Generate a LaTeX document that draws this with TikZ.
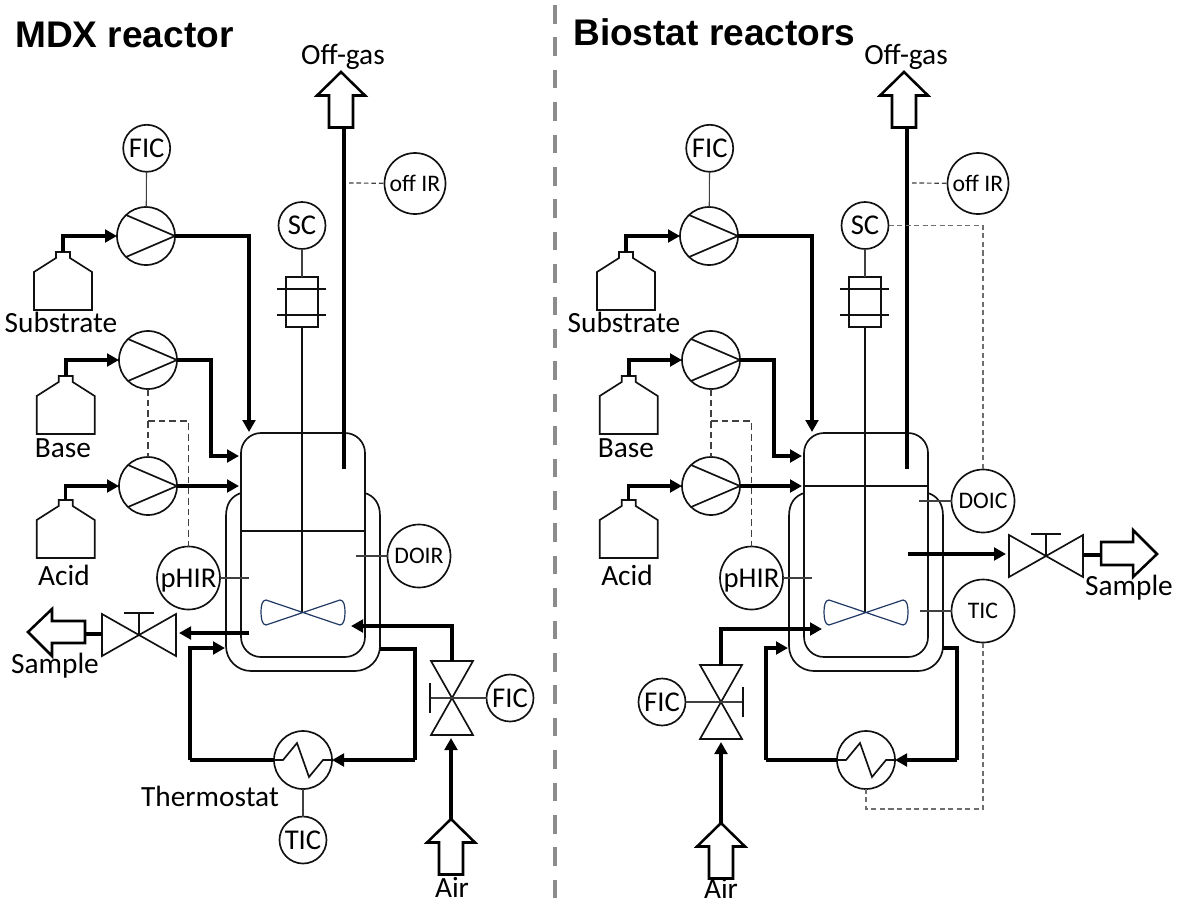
\documentclass[tikz,border=0pt]{standalone}
\usepackage{fontspec}
\setmainfont{Carlito}
\newfontfamily\titlefont{Liberation Sans}
\usetikzlibrary{arrows.meta}
\definecolor{inkline}{HTML}{111111}
\definecolor{hairline}{HTML}{404040}
\definecolor{divgray}{HTML}{8C8C8C}
\definecolor{dashgray}{HTML}{6E6E6E}
\definecolor{stirblue}{HTML}{1F3864}
\tikzset{
  x=0.75pt,y=-0.75pt,
  >={Triangle[length=9pt,width=9.5pt]},
  shape line/.style={draw=inkline,line width=1.25pt,line join=miter},
  hair/.style={draw=hairline,line width=0.8pt},
  hollowarrow/.style={draw=black,line width=1.9pt,line join=miter,fill=white},
  thk/.style={draw=black,line width=3pt},
  med/.style={draw=black,line width=2.3pt},
  blackdash/.style={draw=hairline,line width=0.95pt,dash pattern=on 5pt off 3pt},
  finedash/.style={draw=hairline,line width=0.9pt,dash pattern=on 3.4pt off 2.2pt},
  graydash/.style={draw=dashgray,line width=0.95pt,dash pattern=on 3.8pt off 2.6pt},
  inst/.style={circle,shape line,inner sep=0pt,outer sep=0pt,minimum size=#1*0.75pt,
     font=\fontsize{21.5}{25}\selectfont,text height=13.8pt,text depth=0pt},
  instsmall/.style={inst=#1,font=\fontsize{17.8}{21}\selectfont,text height=11.4pt},
  pumpnode/.style={circle,shape line,inner sep=0pt,outer sep=0pt,minimum size=43.5pt},
  lbl/.style={anchor=base,inner sep=0pt,font=\fontsize{22}{25}\selectfont},
  heading/.style={anchor=base west,inner sep=0pt,font=\titlefont\bfseries\fontsize{27.8}{32}\selectfont},
}
\newcommand{\ctext}[1]{\makebox[0pt]{#1}}
\newcommand{\bottleshape}[3]{%
  \coordinate (#1) at (#2,#3);
  \draw[shape line] (#1) ++(-7,6) -- ++(0,-6) -- ++(14,0) -- ++(0,6) -- ++(22,14)
    -- ++(0,38) -- ++(-58,0) -- ++(0,-38) -- cycle;}
\newcommand{\pumpshape}[3]{%
  \node[pumpnode] (#1) at (#2,#3) {};
  \draw[shape line] (#1.east) -- ++(-49,-21) (#1.east) -- ++(-49,21);}
\newcommand{\upblock}[3]{%
  \draw[hollowarrow] (#2,#3) -- ++(-24,23.5) -- ++(12,0) -- ++(0,32) -- ++(24,0) -- ++(0,-32) -- ++(12,0) -- cycle;
  \coordinate (#1) at (#2,#3);}
\newcommand{\hxshape}[3]{%
  \node[pumpnode] (#1) at (#2,#3) {};
  \draw[shape line] (#1.west) -- ++(9,0) -- ++(14,-17) -- ++(12,34) -- ++(14,-17) -- (#1.east);}
\newcommand{\valveflat}[3]{%
  \coordinate (#1) at (#2,#3);
  \draw[shape line] (#1) -- ++(-37,-21) -- ++(0,42) -- cycle;
  \draw[shape line] (#1) -- ++(37,-21) -- ++(0,42) -- cycle;
  \draw[shape line] (#1) -- ++(0,-22) ++(-15,0) -- ++(30,0);}
% name, x, y, sign of handle side
\newcommand{\valvestand}[4]{%
  \coordinate (#1) at (#2,#3);
  \draw[shape line] (#1) -- ++(-21,-37) -- ++(42,0) -- cycle;
  \draw[shape line] (#1) -- ++(-21,37) -- ++(42,0) -- cycle;
  \draw[hair] (#1) -- ++(#4*22,0);
  \draw[shape line] (#1) ++(#4*22,-15) -- ++(0,30);}
% Everything both reactors share; #1 name prefix, #2 liquid level y
\newcommand{\sharedplant}[2]{%
  % feed bottles and pumps
  \bottleshape{#1bs}{63}{252}
  \bottleshape{#1bb}{65.7}{376}
  \bottleshape{#1ba}{65.7}{500}
  \pumpshape{#1ps}{146}{236}
  \pumpshape{#1pb}{148}{360}
  \pumpshape{#1pa}{148}{486}
  \node[lbl] (#1ls) at (61,332) {Substrate};
  \node[lbl] (#1lb) at (63,457) {Base};
  \node[lbl] (#1la) at (64,585) {Acid};
  \node[inst=47] (#1fic) at (146.7,148.3) {\ctext{FIC}};
  \draw[hair] (#1fic) -- (#1ps);
  % vessel
  \draw[shape line,rounded corners=15pt] (241,433) rectangle (365,657);
  \draw[shape line,rounded corners=18.75pt] (226,515) -- (226,671) -- (380,671) -- (380,515);
  \draw[shape line] (241,493) .. controls (232,496) and (226,503) .. (226,516);
  \draw[shape line] (365,493) .. controls (374,496) and (380,503) .. (380,516);
  \coordinate (#1lvla) at (241,#2);
  \coordinate (#1lvlb) at (365,#2);
  \draw[shape line] (#1lvla) -- (#1lvlb);
  % agitator
  \coordinate (#1hub) at (302,612);
  \node[inst=47] (#1sc) at (302,225.5) {\ctext{SC}};
  \node[draw=inkline,line width=1pt,inner sep=0pt,outer sep=0pt,minimum width=24pt,minimum height=37.5pt] (#1cpl) at (302,302) {};
  \draw[shape line] (277,289) -- (326,289) (277,315) -- (326,315);
  \draw[hair] (#1sc) -- (#1cpl);
  \draw[shape line] (#1cpl) -- (#1hub);
  \draw[draw=stirblue,line width=0.9pt,line join=round] (266,600) -- (340,625)
    .. controls (344,625) and (345,618) .. (345,612) .. controls (345,606) and (344,600) .. (340,600)
    -- (266,625) .. controls (262,625) and (261,618) .. (261,612) .. controls (261,606) and (262,600) .. (266,600) -- cycle;
  % pHIR and its signal lines
  \node[inst=63] (#1phir) at (188.5,578) {\ctext{pHIR}};
  \coordinate (#1phe) at (249,578);
  \draw[hair] (#1phir) -- (#1phe);
  \coordinate (#1tee) at (148,421);
  \draw[blackdash] (#1pb) -- (#1pa);
  \draw[blackdash] (#1tee) -| (#1phir);
  % feeds
  \coordinate (#1ins) at (249,432);
  \coordinate (#1jb) at (211,456);
  \coordinate (#1inb) at (239,456);
  \coordinate (#1ina) at (239,486);
  \draw[med,->] (#1bs) |- (#1ps.west);
  \draw[thk,->] (#1bb) |- (#1pb.west);
  \draw[med,->] (#1ba) |- (#1pa.west);
  \draw[thk,->] (#1ps.east) -| (#1ins);
  \draw[thk,->] (#1pb.east) -| (#1jb) -- (#1inb);
  \draw[med,->] (#1pa.east) -- (#1ina);
  % off-gas
  \upblock{#1og}{341}{72}
  \coordinate (#1ogb) at (344,127);
  \coordinate (#1oge) at (344,469);
  \draw[thk] (#1ogb) -- (#1oge);
  \node[lbl] (#1lo) at (343,64) {Off-gas};
  \node[instsmall=61] (#1off) at (415,183.5) {\ctext{off IR}};
  \coordinate (#1ofl) at (349,183);
  \draw[finedash] (#1ofl) -- (#1off);
  % heat exchanger
  \hxshape{#1hx}{303}{760}
}
\begin{document}
\begin{tikzpicture}
\useasboundingbox (0,0) rectangle (1180,907);
% divider
\coordinate (divtop) at (555,5);
\coordinate (divbot) at (555,899);
\draw[draw=divgray,line width=3.7pt,dash pattern=on 13.9pt off 10.4pt] (divtop) -- (divbot);
% titles
\node[heading] (t1) at (15,47) {MDX reactor};
\node[heading] (t2) at (573,45) {Biostat reactors};

% ---------- left plant ----------
\sharedplant{l}{531}
\node[instsmall=63] (ldo) at (419,556) {\ctext{DOIR}};
\coordinate (ldoe) at (356,556);
\draw[hair] (ldo) -- (ldoe);
% sample
\valveflat{lsv}{139}{635}
\draw[hollowarrow] (28,632) -- (52,609) -- (52,621) -- (85,621) -- (85,643) -- (52,643) -- (52,656) -- cycle;
\coordinate (lsb) at (85,634);
\coordinate (lsi) at (102,634);
\draw[thk] (lsb) -- (lsi);
\coordinate (lso) at (249,633);
\coordinate (lsx) at (179,633);
\draw[med,->] (lso) -- (lsx);
\node[lbl] (lsl) at (55,673) {Sample};
% air
\valvestand{lav}{452}{698}{-1}
\node[inst=47] (lafic) at (510,698) {\ctext{FIC}};
\draw[hair] (lafic) -- (lav);
\upblock{lair}{451}{819}
\coordinate (lain) at (451,738);
\draw[med,->] (lair) -- (lain);
\coordinate (laout) at (452,661);
\coordinate (laend) at (351,626);
\draw[thk,->] (laout) |- (laend);
\node[lbl] (lal) at (452,897) {Air};
% jacket loop
\coordinate (ljo) at (380,649);
\coordinate (ljc) at (415,760);
\coordinate (ljr) at (190,760);
\coordinate (lji) at (225,648);
\draw[thk] (ljo) -| (ljc);
\draw[thk,->] (ljc) -- (lhx.east);
\draw[thk] (lhx.west) -- (ljr);
\draw[thk,->] (ljr) |- (lji);
\node[lbl] (lth) at (210,806) {Thermostat};
\node[inst=47] (ltic) at (303,840) {\ctext{TIC}};
\draw[hair] (lhx) -- (ltic);

% ---------- right plant ----------
\begin{scope}[xshift=422.25pt]
\sharedplant{r}{486}
\end{scope}
\node[instsmall=63] (rdo) at (983,501) {\ctext{DOIC}};
\coordinate (rdoe) at (919,501);
\draw[hair] (rdo) -- (rdoe);
\draw[graydash] (rsc) -| (rdo);
\node[instsmall=63] (rtic) at (983,611) {\ctext{TIC}};
\coordinate (rtice) at (920,611);
\draw[hair] (rtic) -- (rtice);
\coordinate (rdk) at (983,809);
\draw[graydash] (rtic) -- (rdk) -| (rhx);
% sample
\valveflat{rsv}{1046}{556}
\draw[hollowarrow] (1157,554) -- (1133,530) -- (1133,542) -- (1101,542) -- (1101,565) -- (1133,565) -- (1133,577) -- cycle;
\coordinate (rsb) at (1101,555);
\coordinate (rsi) at (1083,555);
\draw[thk] (rsi) -- (rsb);
\coordinate (rso) at (908,554);
\coordinate (rsx) at (1006,554);
\draw[med,->] (rso) -- (rsx);
\node[lbl] (rsl) at (1129,595) {Sample};
% air
\valvestand{rav}{721}{702}{1}
\node[inst=47] (rafic) at (662,702) {\ctext{FIC}};
\draw[hair] (rafic) -- (rav);
\upblock{rair}{721}{823}
\coordinate (rain) at (721,742);
\draw[med,->] (rair) -- (rain);
\coordinate (raout) at (721,666);
\coordinate (raend) at (822,629);
\draw[thk,->] (raout) |- (raend);
\node[lbl] (ral) at (721,898) {Air};
% jacket loop
\coordinate (rjo) at (943,648);
\coordinate (rjc) at (957,760);
\coordinate (rjr) at (766,760);
\coordinate (rji) at (788,648);
\draw[thk] (rjo) -| (rjc);
\draw[thk,->] (rjc) -- (rhx.east);
\draw[thk] (rhx.west) -- (rjr);
\draw[thk,->] (rjr) |- (rji);
\end{tikzpicture}
\end{document}
